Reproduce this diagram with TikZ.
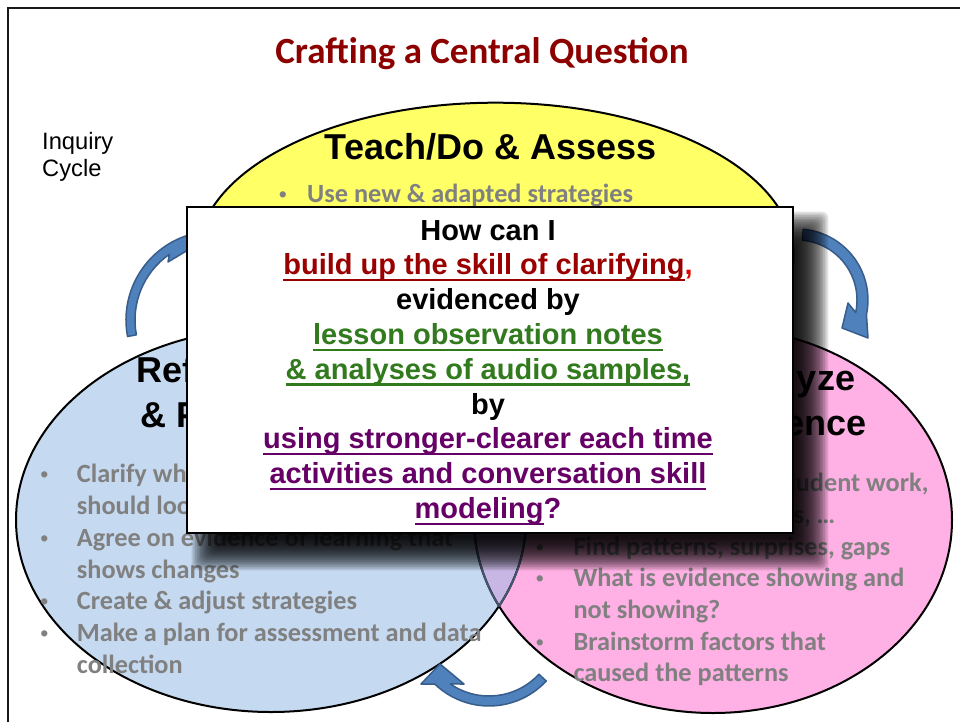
\documentclass[tikz,border=0pt]{standalone}
\usepackage{fontspec}
\setmainfont{Carlito}
\newfontfamily\arialf{Liberation Sans}
\usetikzlibrary{calc}
\definecolor{ylw}{RGB}{255,255,102}
\definecolor{blu}{RGB}{197,217,241}
\definecolor{pnk}{RGB}{255,176,228}
\definecolor{lens}{RGB}{200,182,228}
\definecolor{slate}{RGB}{70,85,110}
\definecolor{arrfill}{RGB}{79,129,189}
\definecolor{arrline}{RGB}{56,93,138}
\definecolor{graytxt}{RGB}{128,128,128}
\definecolor{titlered}{RGB}{140,0,0}
\definecolor{qred}{RGB}{155,0,0}
\definecolor{qcomma}{RGB}{225,0,0}
\definecolor{qgreen}{RGB}{50,122,30}
\definecolor{qpurple}{RGB}{102,0,102}
\newsavebox\ulbox
\newcommand\ulx[1]{\sbox\ulbox{#1}\rlap{\rule[-6.5pt]{\wd\ulbox}{2.4pt}}\usebox\ulbox}
\begin{document}
\begin{tikzpicture}[x=1pt,y=1pt,
  titlest/.style={font=\bfseries\fontsize{37}{44}\selectfont, text=titlered, anchor=base, inner sep=0},
  inq/.style={font=\arialf\fontsize{23.7}{26}\selectfont, anchor=base west, inner sep=0},
  headtxt/.style={font=\arialf\bfseries\fontsize{36}{43}\selectfont, anchor=base, inner sep=0},
  bul/.style={font=\bfseries\fontsize{26.3}{31.8}\selectfont, text=graytxt, anchor=base west, inner sep=0},
  dotst/.style={font=\arialf\fontsize{23}{28}\selectfont, text=graytxt, anchor=base, inner sep=0},
  qtxt/.style={font=\arialf\bfseries\fontsize{29}{34}\selectfont, anchor=base, inner sep=0},
  edge/.style={draw=black, line width=2},
  arrowst/.style={fill=arrfill, draw=arrline, line width=1.5, line join=round},
  shadowlayer/.style={fill=black, fill opacity=0.11, rounded corners=6pt},
  qbox/.style={draw=black, line width=2.7, fill=white, minimum width=606pt, minimum height=326pt, inner sep=0}
]
\useasboundingbox (0,0) rectangle (960,-722);
% frame
\draw[line width=2.5, draw=black!90] (8,-722) -- (8,-8) -- (960,-8);
% title
\node[titlest] (title) at (482,-63.3) {Crafting a Central Question};
\node[inq] (inq1) at (42,-150) {Inquiry};
\node[inq] (inq2) at (42,-176) {Cycle};
% ellipses
\fill[ylw] (495.5,-255.7) ellipse [x radius=298, y radius=153];
\draw[edge] (495.5,-255.7) ellipse [x radius=298, y radius=153];
\fill[blu] (271,-520) ellipse [x radius=255, y radius=192];
\fill[pnk] (713,-520) ellipse [x radius=239, y radius=193];
\begin{scope}
  \clip (271,-520) ellipse [x radius=255, y radius=192];
  \fill[lens] (713,-520) ellipse [x radius=239, y radius=193];
\end{scope}
\draw[edge] (271,-520) ellipse [x radius=255, y radius=192];
\draw[edge] (713,-520) ellipse [x radius=239, y radius=193];
\begin{scope}
  \clip (271,-520) ellipse [x radius=255, y radius=192];
  \draw[draw=slate, line width=2] (713,-520) ellipse [x radius=239, y radius=193];
\end{scope}
\begin{scope}
  \clip (713,-520) ellipse [x radius=239, y radius=193];
  \draw[draw=slate, line width=2] (271,-520) ellipse [x radius=255, y radius=192];
\end{scope}
% headings
\node[headtxt] (hteach) at (490.5,-160) {Teach/Do \& Assess};
\node[headtxt] (hrefl1) at (197,-382) {Reflect};
\node[headtxt] (hrefl2) at (197,-427) {\& Plan};
\node[headtxt] (hanal1) at (787,-390) {Analyze};
\node[headtxt] (hanal2) at (787,-435) {Evidence};
% top bullet
\node[dotst] (td0) at (283,-202.5) {•};
\node[bul] (tb0) at (307,-202.5) {Use new \& adapted strategies};
% left bullets
\node[dotst] (ld0) at (44.3,-482.7) {•};
\node[bul] (lb0) at (76.7,-482.7) {Clarify what};
\node[bul] (lb1) at (76.7,-514.5) {should look};
\node[dotst] (ld2) at (44.3,-546.3) {•};
\node[bul] (lb2) at (76.7,-546.3) {Agree on evidence of learning that};
\node[bul] (lb3) at (76.7,-578.1) {shows changes};
\node[dotst] (ld4) at (44.3,-609.9) {•};
\node[bul] (lb4) at (76.7,-609.9) {Create \& adjust strategies};
\node[dotst] (ld5) at (44.3,-641.7) {•};
\node[bul] (lb5) at (76.7,-641.7) {Make a plan for assessment and data};
\node[bul] (lb6) at (76.7,-673.5) {collection};
% right bullets
\node[bul] (rb0) at (776.3,-491.7) {student work,};
\node[bul] (rb1) at (743,-523.4) {notes, …};
\node[dotst] (rd2) at (540,-555.1) {•};
\node[bul] (rb2) at (573.3,-555.1) {Find patterns, surprises, gaps};
\node[dotst] (rd3) at (540,-586.8) {•};
\node[bul] (rb3) at (573.3,-586.8) {What is evidence showing and};
\node[bul] (rb4) at (573.3,-618.5) {not showing?};
\node[dotst] (rd5) at (540,-650.2) {•};
\node[bul] (rb5) at (573.3,-650.2) {Brainstorm factors that};
\node[bul] (rb6) at (573.3,-681.9) {caused the patterns};
% arrows
\path[arrowst] ($(215,-320)+(190.7:89)$) arc[start angle=190.7, end angle=105, radius=89]
  -- (200,-224) -- (218,-232) -- (168,-262)
  -- ($(215,-320)+(124.7:80)$) arc[start angle=124.7, end angle=190.7, radius=80] -- cycle;
\path[arrowst] ($(797,-300)+(85:71)$) arc[start angle=85, end angle=-12, radius=71]
  -- (868,-338) -- (842,-328) -- (848,-303)
  -- ($(797,-300)+(-12:60)$) arc[start angle=-12, end angle=85, radius=60] -- cycle;
\path[arrowst] ($(489,-628)+(-42.8:78)$) arc[start angle=-42.8, end angle=-134.1, radius=78]
  -- (421,-684) -- (440,-664) -- (464,-684)
  -- ($(489,-628)+(-124.6:68)$) arc[start angle=-124.6, end angle=-42.8, radius=68] -- cycle;
% soft shadow of the question box (box shifted by 20,-20, blurred)
\foreach \k in {1,...,20}{
  \pgfmathsetmacro\m{17-1.7*\k}
  \fill[shadowlayer] (207-\m,-227+\m) rectangle (813+\m,-555-\m);
}
% question box
\node[qbox] (qbox) at (490,-370) {};
\node[qtxt] (q0) at (488,-240) {How can I};
\node[qtxt] (q1) at (488,-274.8) {{\color{qred}\ulx{build up the skill of clarifying}}{\color{qcomma},}};
\node[qtxt] (q2) at (488,-309.6) {evidenced by};
\node[qtxt, text=qgreen] (q3) at (488,-344.4) {\ulx{lesson observation notes}};
\node[qtxt, text=qgreen] (q4) at (488,-379.2) {\ulx{\& analyses of audio samples,}};
\node[qtxt] (q5) at (488,-414) {by};
\node[qtxt, text=qpurple] (q6) at (488,-448.8) {\ulx{using stronger-clearer each time}};
\node[qtxt, text=qpurple] (q7) at (488,-483.6) {\ulx{activities and conversation skill}};
\node[qtxt, text=qpurple] (q8) at (488,-518.4) {\ulx{modeling}?};
\end{tikzpicture}
\end{document}
